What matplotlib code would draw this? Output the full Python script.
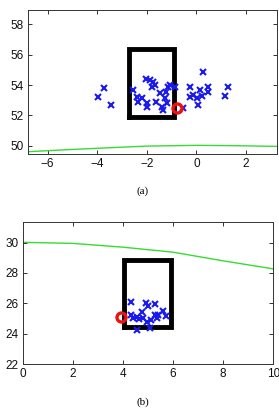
import matplotlib
matplotlib.use("Agg")
import matplotlib.pyplot as plt

# ---- panel (a) data ----
a_x = [-3.98, -3.71, -3.46, -2.54, -2.41, -2.34, -2.21, -2.01, -2.01, -2.05, -1.87,
       -1.74, -1.81, -1.67, -1.61, -1.47, -1.40, -1.34, -1.27, -1.20, -1.13, -1.07,
       -1.24, -0.87, -0.53, -0.26, -0.26, -0.13, 0.01, 0.07, 0.14, 0.21, 0.27, 0.48,
       0.48, 1.15, 1.28]
a_y = [53.23, 53.78, 52.66, 53.67, 53.23, 52.90, 53.12, 52.79, 52.57, 54.39, 54.33,
       54.22, 53.85, 54.00, 52.90, 53.45, 52.57, 52.35, 53.12, 52.79, 53.85, 54.00,
       53.56, 53.85, 52.50, 53.85, 53.23, 53.34, 53.12, 52.70, 53.67, 53.27, 54.88,
       53.85, 53.56, 53.27, 53.85]
a_rect = [-2.7, 51.9, 1.8, 4.45]   # x0, y0, width, height
a_circle = [-0.8, 52.5]
a_line_x = [-6.8, -5.0, -3.0, -2.0, 0.0, 1.5, 3.3]
a_line_y = [49.6, 49.75, 49.9, 49.97, 50.02, 50.0, 49.95]

# ---- panel (b) data ----
b_x = [4.31, 4.31, 4.55, 4.65, 4.57, 4.75, 4.91, 5.01, 5.28, 4.95, 5.08, 5.12,
       5.28, 5.40, 5.35, 5.61, 5.71, 4.80, 4.40]
b_y = [26.07, 25.23, 25.12, 24.95, 24.24, 25.45, 26.00, 25.82, 25.93, 24.80, 24.35,
       24.90, 25.23, 25.23, 25.00, 25.50, 25.16, 25.00, 25.05]
b_rect = [4.05, 24.42, 1.85, 4.45]
b_circle = [3.92, 25.08]
b_line_x = [0, 2, 4, 6, 8, 10]
b_line_y = [30.02, 29.95, 29.7, 29.37, 28.8, 28.27]

a_xticks = [-6, -4, -2, 0, 2]
a_yticks = [50, 52, 54, 56, 58]
b_xticks = [0, 2, 4, 6, 8, 10]
b_yticks = [22, 24, 26, 28, 30]

fig = plt.figure(figsize=(2.79, 4.09), dpi=100)

def style(ax):
    ax.tick_params(direction='in', top=True, right=True, length=3, width=0.6,
                   labelsize=8.5, pad=3, colors='#111111')
    for s in ax.spines.values():
        s.set_linewidth(0.7)
        s.set_color('#333333')
    for lab in ax.get_xticklabels() + ax.get_yticklabels():
        lab.set_fontfamily('Liberation Sans')

def panel(ax, xs, ys, rect, circ, lx, ly):
    ax.plot(lx, ly, color='#33dd33', lw=1.0)
    x0, y0, w, h = rect
    ax.plot([x0, x0 + w, x0 + w, x0, x0], [y0, y0, y0 + h, y0 + h, y0],
            color='black', lw=3.5, solid_joinstyle='miter')
    ax.plot(xs, ys, 'x', color='#1a1aee', ms=4.8, mew=1.5)
    ax.plot([circ[0]], [circ[1]], 'o', mfc='none', mec='#ee1111', ms=6.5, mew=2.4)

ax1 = fig.add_axes([0.1004, 0.6235, 0.8925, 0.352])
panel(ax1, a_x, a_y, a_rect, a_circle, a_line_x, a_line_y)
ax1.set_xlim(-6.79, 3.25)
ax1.set_ylim(49.45, 58.95)
ax1.set_xticks(a_xticks)
ax1.set_yticks(a_yticks)
style(ax1)

ax2 = fig.add_axes([0.0814, 0.110, 0.898, 0.348])
panel(ax2, b_x, b_y, b_rect, b_circle, b_line_x, b_line_y)
ax2.set_xlim(0, 10)
ax2.set_ylim(22, 31.38)
ax2.set_xticks(b_xticks)
ax2.set_yticks(b_yticks)
style(ax2)

fig.text(143 / 279, 1 - 190.7 / 409, '(a)', ha='center', va='center',
         fontsize=8, family='Liberation Serif')
fig.text(143 / 279, 1 - 401.7 / 409, '(b)', ha='center', va='center',
         fontsize=8, family='Liberation Serif')

fig.savefig('out.png', dpi=100)
